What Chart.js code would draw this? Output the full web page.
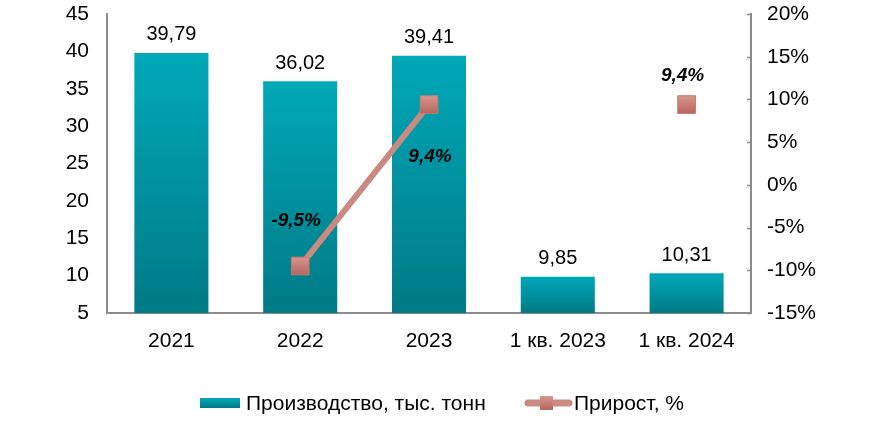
<!DOCTYPE html>
<html lang="ru">
<head>
    <meta charset="UTF-8">
    <title>Производство и прирост</title>
    <script src="https://cdn.jsdelivr.net/npm/chart.js"></script>
    <style>
        html, body { margin: 0; padding: 0; background: #fff; }
        #wrap { width: 882px; height: 430px; }
    </style>
</head>
<body>
    <div id="wrap"><canvas id="prodChart" width="882" height="430"></canvas></div>

    <script>
        const categories = ['2021', '2022', '2023', '1 кв. 2023', '1 кв. 2024'];
        const production = [39.79, 36.02, 39.41, 9.85, 10.31];
        const growth = [null, -9.5, 9.4, null, 9.4];
        const leftTicks = { min: 5, max: 45, step: 5 };
        const rightTicks = { min: -15, max: 20, step: 5 };
        const seriesNames = ['Производство, тыс. тонн', 'Прирост, %'];

        // label placement for growth values (pixels from point)
        const growthLabelShift = [null, [-4, -45], [1, 52], null, [-4, -29]];

        const FONT = '"Liberation Sans", Arial, sans-serif';
        const AXIS_GRAY = '#8c8c8c';
        const LINE_COLOR = '#c98a82';

        function fmt(v, digits) {
            return v.toFixed(digits).replace('.', ',');
        }

        function barGradient(ctx, top, bottom) {
            const g = ctx.createLinearGradient(0, top, 0, bottom);
            g.addColorStop(0, '#00a8b8');
            g.addColorStop(1, '#007a86');
            return g;
        }

        function markerGradient(ctx, top, bottom) {
            const g = ctx.createLinearGradient(0, top, 0, bottom);
            g.addColorStop(0, '#d9958c');
            g.addColorStop(1, '#b5675f');
            return g;
        }

        const labelsPlugin = {
            id: 'labelsPlugin',
            afterDatasetsDraw(chart) {
                const ctx = chart.ctx;
                ctx.save();
                ctx.textAlign = 'center';
                ctx.textBaseline = 'middle';
                ctx.fillStyle = '#000';

                // bar values
                ctx.font = '20px ' + FONT;
                chart.getDatasetMeta(1).data.forEach((bar, i) => {
                    ctx.fillText(fmt(production[i], 2), bar.x, bar.y - 18);
                });

                // growth values
                ctx.font = 'italic bold 19px ' + FONT;
                chart.getDatasetMeta(0).data.forEach((pt, i) => {
                    if (growth[i] === null) return;
                    const s = growthLabelShift[i];
                    ctx.fillText(fmt(growth[i], 1) + '%', pt.x + s[0], pt.y + s[1]);
                });
                ctx.restore();
            },
            afterDraw(chart) {
                const ctx = chart.ctx;
                const y1 = chart.scales.y1;
                ctx.save();
                // small inner ticks on right axis
                ctx.strokeStyle = AXIS_GRAY;
                ctx.lineWidth = 1.5;
                y1.ticks.forEach((t, i) => {
                    const py = Math.round(y1.getPixelForTick(i)) + 0.5;
                    ctx.beginPath();
                    ctx.moveTo(y1.left - 4, py);
                    ctx.lineTo(y1.left, py);
                    ctx.stroke();
                });

                // legend
                const ly = 403;
                ctx.fillStyle = barGradient(ctx, ly - 5, ly + 5);
                ctx.fillRect(200, ly - 5, 40, 10);
                ctx.font = '21px ' + FONT;
                ctx.textBaseline = 'middle';
                ctx.textAlign = 'left';
                ctx.fillStyle = '#000';
                ctx.fillText(seriesNames[0], 246, ly + 1);

                ctx.strokeStyle = LINE_COLOR;
                ctx.lineWidth = 7;
                ctx.lineCap = 'round';
                ctx.beginPath();
                ctx.moveTo(528, ly);
                ctx.lineTo(569, ly);
                ctx.stroke();
                ctx.fillStyle = markerGradient(ctx, ly - 7, ly + 7);
                ctx.fillRect(540, ly - 7, 13, 14);
                ctx.fillStyle = '#000';
                ctx.fillText(seriesNames[1], 574, ly + 1);
                ctx.restore();
            }
        };

        function noEdgePadding(s) {
            s.paddingTop = 0;
            s.paddingBottom = 0;
        }

        const ctx = document.getElementById('prodChart').getContext('2d');
        new Chart(ctx, {
            data: {
                labels: categories,
                datasets: [
                    {
                        type: 'line',
                        label: seriesNames[1],
                        data: growth,
                        yAxisID: 'y1',
                        order: 0,
                        borderColor: LINE_COLOR,
                        borderWidth: 6,
                        spanGaps: false,
                        pointStyle: 'rect',
                        pointRadius: 12.5,
                        pointBorderWidth: 1,
                        pointBorderColor: '#c07a72',
                        pointBackgroundColor: (c) => {
                            const ys = c.chart.scales.y1;
                            if (!ys || c.raw === null || c.raw === undefined) return '#c47a72';
                            const py = ys.getPixelForValue(c.raw);
                            if (!Number.isFinite(py)) return '#c47a72';
                            return markerGradient(c.chart.ctx, py - 9, py + 9);
                        },
                        tension: 0
                    },
                    {
                        type: 'bar',
                        label: seriesNames[0],
                        data: production,
                        yAxisID: 'y',
                        order: 1,
                        barPercentage: 0.575,
                        categoryPercentage: 1,
                        backgroundColor: (c) => {
                            const ys = c.chart.scales.y;
                            if (!ys || c.raw === undefined) return '#0097a5';
                            const top = ys.getPixelForValue(c.raw);
                            const bottom = ys.getPixelForValue(leftTicks.min);
                            if (!Number.isFinite(top) || !Number.isFinite(bottom)) return '#0097a5';
                            return barGradient(c.chart.ctx, top, bottom);
                        }
                    }
                ]
            },
            options: {
                responsive: false,
                animation: false,
                layout: { padding: { top: 14, left: 0, right: 0, bottom: 0 } },
                plugins: {
                    legend: { display: false },
                    tooltip: { enabled: false }
                },
                scales: {
                    x: {
                        grid: { display: false, drawTicks: false },
                        border: { color: AXIS_GRAY, width: 2 },
                        ticks: { color: '#000', font: { family: FONT, size: 21 }, padding: 16 },
                        afterFit(s) { s.height = 117; s.paddingLeft = 0; s.paddingRight = 0; }
                    },
                    y: {
                        position: 'left',
                        min: leftTicks.min,
                        max: leftTicks.max,
                        grid: { display: false, drawTicks: false },
                        border: { color: AXIS_GRAY, width: 2 },
                        ticks: {
                            stepSize: leftTicks.step,
                            color: '#000',
                            padding: 18,
                            font: { family: FONT, size: 21 }
                        },
                        afterFit(s) { s.width = 107; noEdgePadding(s); }
                    },
                    y1: {
                        position: 'right',
                        min: rightTicks.min,
                        max: rightTicks.max,
                        grid: { display: false, drawTicks: false },
                        border: { color: AXIS_GRAY, width: 2 },
                        ticks: {
                            stepSize: rightTicks.step,
                            color: '#000',
                            padding: 16,
                            font: { family: FONT, size: 21 },
                            callback: (v) => v + '%'
                        },
                        afterFit(s) { s.width = 131; noEdgePadding(s); }
                    }
                }
            },
            plugins: [labelsPlugin]
        });
    </script>
</body>
</html>
